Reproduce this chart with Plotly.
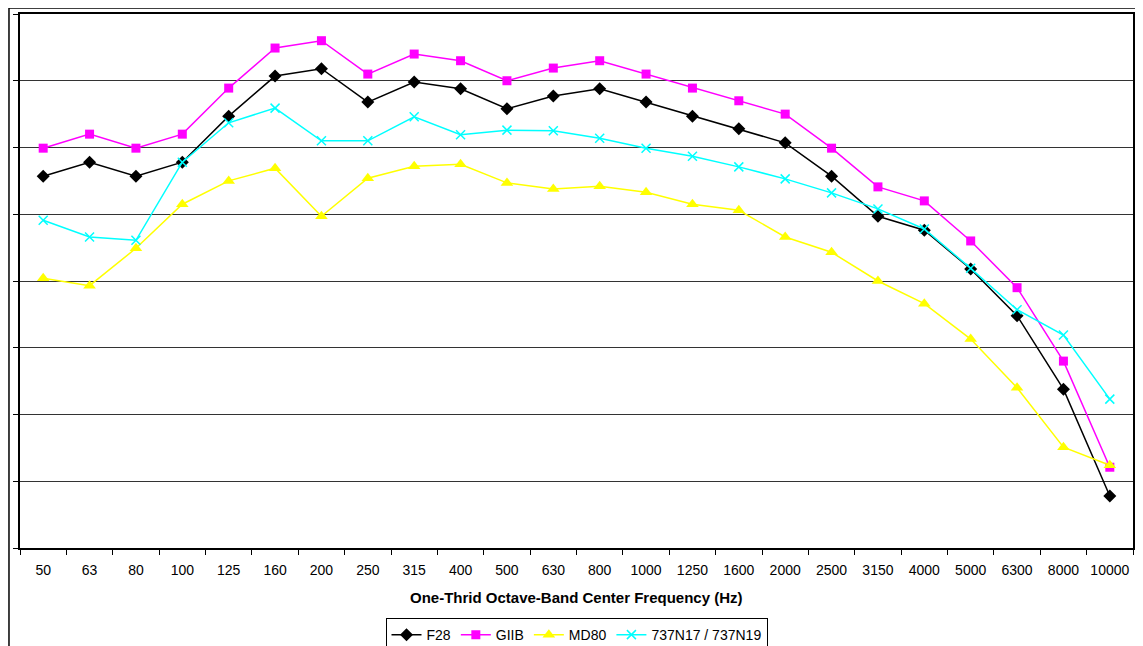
import plotly.graph_objects as go

freqs = ["50", "63", "80", "100", "125", "160", "200", "250", "315", "400", "500", "630",
         "800", "1000", "1250", "1600", "2000", "2500", "3150", "4000", "5000", "6300", "8000", "10000"]

f28 = [55.7, 57.8, 55.7, 57.8, 64.7, 70.7, 71.8, 66.8, 69.8, 68.8, 65.8, 67.7,
       68.8, 66.8, 64.7, 62.8, 60.7, 55.7, 49.7, 47.6, 41.8, 34.8, 23.8, 7.8]
giib = [59.9, 62.0, 59.9, 62.0, 68.9, 74.9, 76.0, 71.0, 74.0, 73.0, 70.0, 71.9,
        73.0, 71.0, 68.9, 67.0, 65.0, 59.9, 54.1, 52.0, 46.0, 39.0, 28.0, 12.1]
md80 = [40.4, 39.3, 44.9, 51.5, 55.0, 56.9, 49.7, 55.4, 57.2, 57.5, 54.7, 53.8,
        54.2, 53.3, 51.5, 50.6, 46.6, 44.3, 40.0, 36.6, 31.3, 24.0, 15.1, 12.4]
b737 = [49.1, 46.6, 46.1, 57.8, 63.7, 65.9, 61.0, 61.0, 64.6, 61.9, 62.6, 62.5,
        61.4, 59.9, 58.7, 57.1, 55.3, 53.2, 50.8, 47.8, 41.9, 35.7, 31.9, 22.3]

fig = go.Figure()
fig.add_trace(go.Scatter(x=freqs, y=f28, name="F28", mode="lines+markers",
                         line=dict(color="black", width=1.5),
                         marker=dict(symbol="diamond", size=10, color="black")))
fig.add_trace(go.Scatter(x=freqs, y=giib, name="GIIB", mode="lines+markers",
                         line=dict(color="#FF00FF", width=1.5),
                         marker=dict(symbol="square", size=9, color="#FF00FF")))
fig.add_trace(go.Scatter(x=freqs, y=md80, name="MD80", mode="lines+markers",
                         line=dict(color="#FFFF00", width=1.5),
                         marker=dict(symbol="triangle-up", size=11, color="#FFFF00")))
fig.add_trace(go.Scatter(x=freqs, y=b737, name="737N17 / 737N19", mode="lines+markers",
                         line=dict(color="#00FFFF", width=1.5),
                         marker=dict(symbol="x-thin", size=9, line=dict(color="#00FFFF", width=1.5))))

fig.update_layout(
    width=1135, height=638,
    margin=dict(l=12, r=10, t=6, b=98, autoexpand=False),
    paper_bgcolor="white", plot_bgcolor="white",
    font=dict(family="Liberation Sans, Arial, sans-serif", size=12, color="black"),
    showlegend=True,
    legend=dict(orientation="h", x=0.5, xanchor="center", y=-0.163, yanchor="middle",
                bordercolor="black", borderwidth=1, font=dict(size=14),
                itemwidth=30, tracegroupgap=0),
    xaxis=dict(type="category", range=[-0.5, len(freqs) - 0.5], showgrid=False, showline=True,
               linecolor="black", linewidth=2,
               mirror=True, ticks="outside", ticklen=5, tickcolor="black", tickson="boundaries",
               ticklabelstandoff=8, tickfont=dict(size=14), tickangle=0, automargin=False),
    yaxis=dict(range=[0, 80], dtick=10, showgrid=True, gridcolor="#333333", gridwidth=1,
               showline=True, linecolor="black", linewidth=2, mirror=True, ticks="outside",
               ticklen=5, tickcolor="black", showticklabels=False, zeroline=False,
               automargin=False),
    annotations=[dict(text="<b>One-Thrid Octave-Band Center Frequency (Hz)</b>", xref="paper",
                      yref="paper", x=0.5, y=-0.0936, xanchor="center", yanchor="middle",
                      showarrow=False, font=dict(size=15))],
    shapes=[
        dict(type="line", xref="paper", yref="paper", x0=-0.0099, x1=1.02, y0=1.0112, y1=1.0112,
             line=dict(color="black", width=1.5)),
        dict(type="line", xref="paper", yref="paper", x0=-0.0099, x1=-0.0099, y0=1.0112, y1=-0.2,
             line=dict(color="black", width=1.5)),
    ],
)

fig.write_html("out.html")
